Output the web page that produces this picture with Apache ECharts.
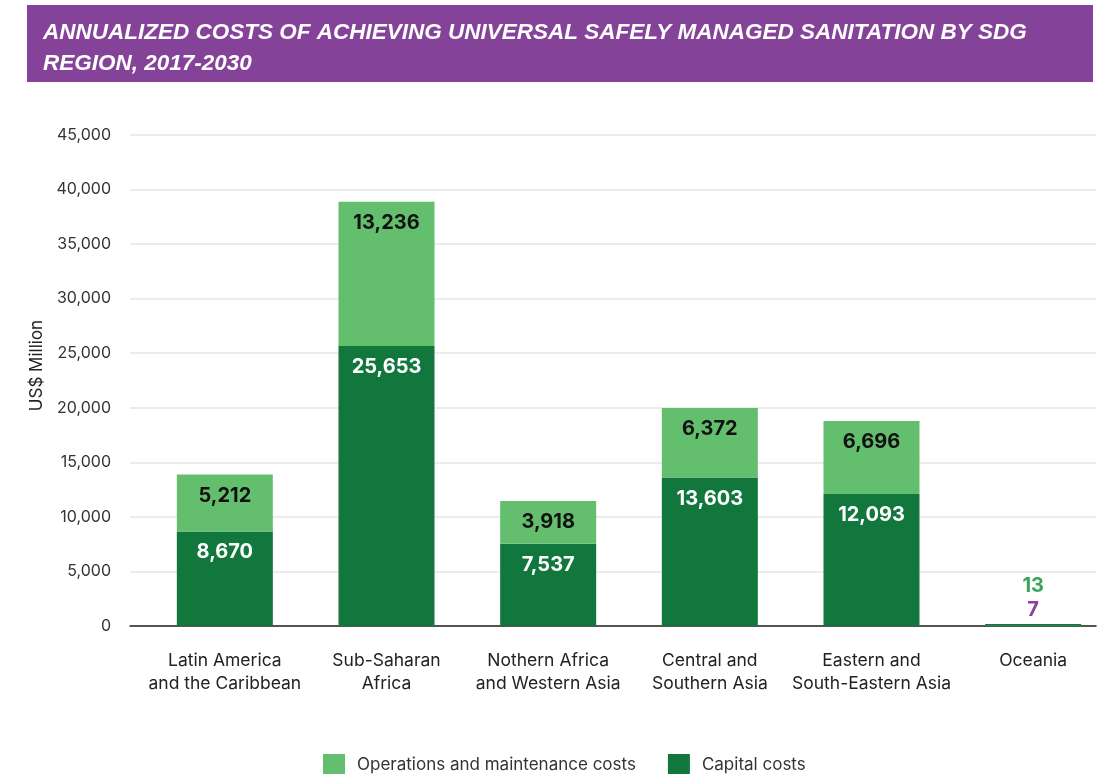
<!DOCTYPE html>
<html>
<head>
<meta charset="utf-8">
<script src="https://cdn.jsdelivr.net/npm/echarts@6/dist/echarts.min.js"></script>
<style>
  html, body { margin: 0; padding: 0; background: #fff; }
  #chart { width: 1100px; height: 774px; }
</style>
</head>
<body>
<div id="chart"></div>
<script>
// data
const regions = [
  'Latin America\nand the Caribbean',
  'Sub-Saharan\nAfrica',
  'Nothern Africa\nand Western Asia',
  'Central and\nSouthern Asia',
  'Eastern and\nSouth-Eastern Asia',
  'Oceania'
];
const capitalCosts = [8670, 25653, 7537, 13603, 12093, 7];
const omCosts = [5212, 13236, 3918, 6372, 6696, 13];
const yTicks = { min: 0, max: 45000, interval: 5000 };

const titleText = 'ANNUALIZED COSTS OF ACHIEVING UNIVERSAL SAFELY MANAGED SANITATION BY SDG\nREGION, 2017-2030';

const DARK = '#11773d';
const LIGHT = '#63be6e';
const FONT = 'Inter, Roboto, "Noto Sans", sans-serif';

const chart = echarts.init(document.getElementById('chart'), null, { renderer: 'canvas' });

// last category (Oceania) gets small coloured labels above the bar
const capData = capitalCosts.map((v, i) => i === regions.length - 1
  ? { value: v, label: { position: 'top', distance: 4, color: '#8b3f9e' } }
  : v);
const omData = omCosts.map((v, i) => i === regions.length - 1
  ? { value: v, label: { position: 'top', distance: 30, color: '#3aa45a' } }
  : v);

const labelStyle = {
  show: true,
  position: 'insideTop',
  distance: 11,
  fontFamily: FONT,
  fontSize: 20,
  fontWeight: 'bold',
  formatter: p => p.value.toLocaleString('en-US')
};

const option = {
  backgroundColor: '#fff',
  animation: false,
  textStyle: { fontFamily: FONT },
  graphic: [{
    type: 'rect',
    shape: { x: 27, y: 5, width: 1066, height: 77 },
    style: { fill: '#844399' },
    z: 0
  }],
  title: {
    text: titleText,
    left: 38,
    top: 12,
    textStyle: {
      color: '#fff',
      fontFamily: '"Liberation Sans", Arial, sans-serif',
      fontStyle: 'italic',
      fontWeight: 'bold',
      fontSize: 22.5,
      lineHeight: 31
    }
  },
  legend: {
    left: 318,
    top: 749,
    itemWidth: 22,
    itemHeight: 22,
    itemGap: 32,
    icon: 'rect',
    data: ['Operations and maintenance costs', 'Capital costs'],
    textStyle: { fontFamily: FONT, fontSize: 17, color: '#333', padding: [0, 0, 0, 7] }
  },
  grid: [
    { left: 130, top: 135, width: 966, bottom: 148, outerBoundsMode: 'none' },
    { left: 144, top: 135, width: 970, bottom: 148, outerBoundsMode: 'none' }
  ],
  xAxis: [{
    type: 'category',
    gridIndex: 0,
    data: regions,
    axisLine: { lineStyle: { color: '#222', width: 1.5 } },
    axisTick: { show: false },
    axisLabel: { show: false }
  }, {
    type: 'category',
    gridIndex: 1,
    data: regions,
    axisLine: { show: false },
    axisTick: { show: false },
    axisLabel: {
      interval: 0,
      margin: 23,
      fontFamily: FONT,
      fontSize: 17.5,
      lineHeight: 23,
      color: '#222'
    }
  }],
  yAxis: [{
    type: 'value',
    gridIndex: 0,
    min: yTicks.min,
    max: yTicks.max,
    interval: yTicks.interval,
    name: 'US$ Million',
    nameLocation: 'middle',
    nameGap: 66,
    nameTextStyle: { fontFamily: FONT, fontSize: 17, color: '#222', padding: [0, 0, 0, 30] },
    axisLabel: {
      margin: 19,
      fontFamily: FONT,
      fontSize: 16,
      color: '#333',
      formatter: v => v.toLocaleString('en-US')
    },
    splitLine: { lineStyle: { color: '#e6e6e6', width: 1.5 } }
  }, {
    type: 'value',
    gridIndex: 1,
    min: yTicks.min,
    max: yTicks.max,
    interval: yTicks.interval,
    show: false,
    splitLine: { show: false }
  }],
  series: [{
    name: 'Capital costs',
    type: 'bar',
    xAxisIndex: 1,
    yAxisIndex: 1,
    stack: 'total',
    barWidth: 96,
    barMinHeight: 2,
    itemStyle: { color: DARK },
    label: Object.assign({}, labelStyle, { color: '#fff' }),
    data: capData,
    z: 3
  }, {
    name: 'Operations and maintenance costs',
    type: 'bar',
    xAxisIndex: 1,
    yAxisIndex: 1,
    stack: 'total',
    barWidth: 96,
    itemStyle: { color: LIGHT },
    label: Object.assign({}, labelStyle, { color: '#111' }),
    data: omData,
    z: 3
  }]
};

chart.setOption(option);
</script>
</body>
</html>
